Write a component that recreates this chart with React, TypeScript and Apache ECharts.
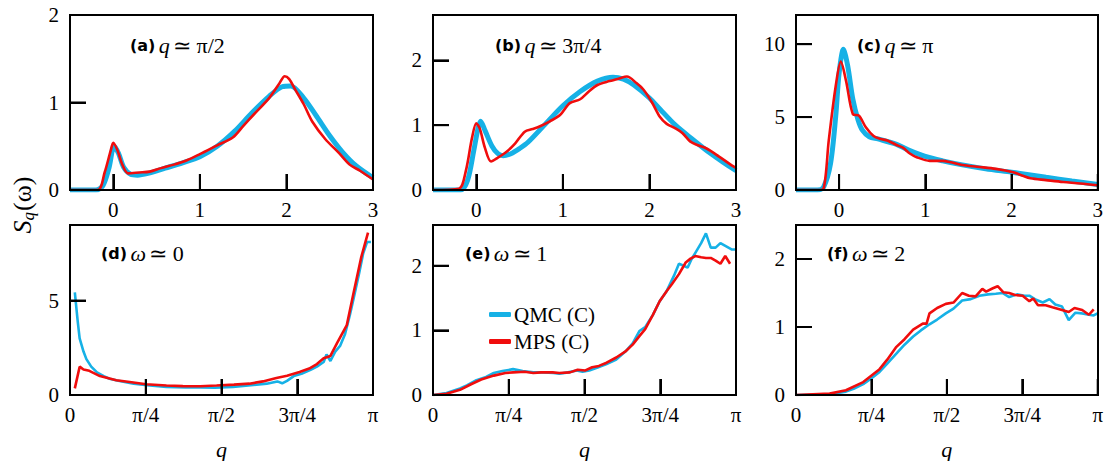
import React, { useEffect, useRef } from "react";
import * as echarts from "echarts";

const PI = Math.PI;

// ---------- Panel (a) q ≃ π/2 ----------
const aQmcW = [-0.5, -0.2, -0.12, -0.05, 0.01, 0.06, 0.12, 0.2, 0.28, 0.4, 0.6, 0.8, 1.0, 1.2, 1.4, 1.6, 1.8, 1.95, 2.05, 2.2, 2.35, 2.5, 2.65, 2.8, 3.0];
const aQmcS = [0, 0, 0.05, 0.25, 0.5, 0.42, 0.26, 0.18, 0.17, 0.19, 0.25, 0.31, 0.38, 0.5, 0.67, 0.88, 1.07, 1.18, 1.19, 1.05, 0.84, 0.62, 0.43, 0.28, 0.14];
const aMpsW = [-0.5, -0.18, -0.1, -0.03, 0.0, 0.05, 0.1, 0.17, 0.3, 0.42, 0.55, 0.7, 0.85, 1.0, 1.2, 1.38, 1.5, 1.62, 1.8, 1.92, 1.98, 2.03, 2.1, 2.2, 2.3, 2.45, 2.6, 2.73, 2.85, 3.0];
const aMpsS = [0, 0, 0.2, 0.45, 0.54, 0.45, 0.3, 0.19, 0.2, 0.21, 0.25, 0.29, 0.34, 0.41, 0.51, 0.6, 0.73, 0.86, 1.05, 1.22, 1.3, 1.27, 1.15, 0.98, 0.78, 0.58, 0.43, 0.29, 0.22, 0.12];

// ---------- Panel (b) q ≃ 3π/4 ----------
const bQmcW = [-0.5, -0.18, -0.1, -0.03, 0.02, 0.05, 0.1, 0.18, 0.25, 0.31, 0.4, 0.5, 0.6, 0.8, 1.0, 1.2, 1.4, 1.58, 1.7, 1.82, 2.0, 2.12, 2.3, 2.5, 2.7, 2.85, 3.0];
const bQmcS = [0, 0, 0.15, 0.6, 0.95, 1.06, 0.92, 0.68, 0.56, 0.53, 0.56, 0.64, 0.74, 1.02, 1.3, 1.52, 1.68, 1.74, 1.71, 1.62, 1.42, 1.25, 1.0, 0.78, 0.57, 0.43, 0.3];
const bMpsW = [-0.5, -0.2, -0.12, -0.05, 0.0, 0.04, 0.1, 0.17, 0.25, 0.35, 0.45, 0.56, 0.65, 0.73, 0.85, 0.97, 1.08, 1.2, 1.3, 1.4, 1.54, 1.65, 1.74, 1.85, 1.93, 2.03, 2.12, 2.2, 2.3, 2.38, 2.47, 2.56, 2.66, 2.8, 2.95, 3.0];
const bMpsS = [0, 0.02, 0.3, 0.8, 1.03, 0.95, 0.65, 0.44, 0.5, 0.59, 0.72, 0.9, 0.94, 0.98, 1.06, 1.16, 1.34, 1.4, 1.52, 1.62, 1.68, 1.72, 1.75, 1.65, 1.55, 1.35, 1.13, 1.02, 0.95, 0.88, 0.75, 0.69, 0.64, 0.52, 0.38, 0.34];

// ---------- Panel (c) q ≃ π ----------
const cQmcW = [-0.5, -0.25, -0.18, -0.1, -0.04, 0.0, 0.05, 0.1, 0.16, 0.22, 0.27, 0.35, 0.45, 0.66, 0.8, 1.0, 1.2, 1.43, 1.7, 2.0, 2.2, 2.4, 2.7, 3.0];
const cQmcS = [0, 0, 0.2, 1.8, 5.0, 8.0, 9.65, 8.5, 6.2, 4.8, 4.1, 3.65, 3.5, 3.15, 2.75, 2.3, 2.0, 1.72, 1.45, 1.22, 1.05, 0.87, 0.62, 0.38];
const cMpsW = [-0.5, -0.25, -0.18, -0.12, -0.04, 0.02, 0.08, 0.16, 0.23, 0.31, 0.4, 0.48, 0.56, 0.66, 0.74, 0.82, 0.9, 1.05, 1.2, 1.3, 1.43, 1.6, 1.82, 2.02, 2.12, 2.22, 2.4, 2.6, 2.8, 3.0];
const cMpsS = [0, 0, 0.1, 3.4, 7.1, 8.8, 7.5, 5.2, 5.1, 4.3, 3.7, 3.5, 3.4, 3.1, 2.9, 2.5, 2.25, 2.0, 2.0, 1.9, 1.72, 1.6, 1.45, 1.22, 1.0, 0.8, 0.68, 0.55, 0.45, 0.32];

// ---------- Panel (d) ω ≃ 0 ----------
const dQmcQ = [0.05, 0.08, 0.1, 0.14, 0.17, 0.22, 0.28, 0.35, 0.41, 0.5, 0.66, 0.8, 1.0, 1.2, 1.35, 1.5, 1.69, 1.85, 2.04, 2.15, 2.2, 2.25, 2.32, 2.4, 2.5, 2.56, 2.63, 2.66, 2.7, 2.75, 2.8, 2.85, 2.9, 2.94, 3.0, 3.04, 3.08, 3.12];
const dQmcS = [5.43, 3.9, 3.0, 2.3, 1.9, 1.5, 1.2, 1.0, 0.86, 0.75, 0.6, 0.52, 0.43, 0.4, 0.4, 0.38, 0.43, 0.5, 0.6, 0.72, 0.62, 0.75, 1.0, 1.12, 1.35, 1.5, 1.75, 2.15, 1.8, 2.3, 2.6, 3.2, 4.2, 5.1, 6.5, 7.5, 8.1, 8.1];
const dMpsQ = [0.05, 0.1, 0.14, 0.2, 0.31, 0.48, 0.6, 0.79, 1.0, 1.17, 1.35, 1.52, 1.7, 1.86, 2.0, 2.14, 2.25, 2.38, 2.48, 2.56, 2.63, 2.7, 2.77, 2.87, 2.94, 3.02, 3.09];
const dMpsS = [0.35, 1.5, 1.35, 1.28, 1.0, 0.78, 0.7, 0.57, 0.5, 0.47, 0.46, 0.5, 0.55, 0.6, 0.72, 0.9, 1.02, 1.22, 1.4, 1.64, 1.95, 2.07, 2.76, 3.7, 5.4, 7.3, 8.6];

// ---------- Panel (e) ω ≃ 1 ----------
const eQmcQ = [0, 0.14, 0.28, 0.35, 0.45, 0.55, 0.63, 0.72, 0.83, 0.93, 1.04, 1.15, 1.25, 1.31, 1.4, 1.49, 1.55, 1.62, 1.7, 1.8, 1.9, 2.0, 2.07, 2.14, 2.2, 2.28, 2.35, 2.42, 2.5, 2.55, 2.6, 2.64, 2.68, 2.72, 2.78, 2.83, 2.88, 2.93, 2.98, 3.04, 3.1, 3.14];
const eQmcS = [0, 0.03, 0.1, 0.15, 0.23, 0.28, 0.34, 0.37, 0.4, 0.37, 0.35, 0.35, 0.34, 0.33, 0.35, 0.38, 0.36, 0.38, 0.42, 0.48, 0.55, 0.68, 0.8, 0.99, 1.05, 1.24, 1.45, 1.6, 1.85, 2.03, 2.0, 1.97, 2.1, 2.2, 2.35, 2.5, 2.28, 2.28, 2.35, 2.3, 2.25, 2.25];
const eMpsQ = [0, 0.14, 0.28, 0.4, 0.5, 0.63, 0.75, 0.83, 0.95, 1.04, 1.12, 1.24, 1.31, 1.42, 1.5, 1.58, 1.65, 1.72, 1.8, 1.9, 2.0, 2.07, 2.14, 2.2, 2.28, 2.35, 2.42, 2.48, 2.55, 2.62, 2.67, 2.72, 2.78, 2.83, 2.88, 2.93, 2.98, 3.03, 3.08];
const eMpsS = [0, 0.02, 0.08, 0.17, 0.24, 0.3, 0.34, 0.35, 0.36, 0.34, 0.35, 0.35, 0.34, 0.35, 0.39, 0.38, 0.43, 0.45, 0.5, 0.58, 0.68, 0.78, 0.91, 1.02, 1.24, 1.45, 1.6, 1.72, 1.87, 2.05, 2.11, 2.15, 2.13, 2.12, 2.12, 2.08, 2.03, 2.15, 2.03];

// ---------- Panel (f) ω ≃ 2 ----------
const fQmcQ = [0, 0.35, 0.52, 0.6, 0.7, 0.78, 0.87, 0.95, 1.04, 1.13, 1.22, 1.3, 1.39, 1.47, 1.56, 1.64, 1.73, 1.82, 1.91, 2.0, 2.08, 2.15, 2.22, 2.3, 2.38, 2.43, 2.5, 2.57, 2.64, 2.7, 2.77, 2.84, 2.91, 2.98, 3.05, 3.1, 3.14];
const fQmcS = [0, 0.01, 0.05, 0.09, 0.16, 0.24, 0.34, 0.46, 0.6, 0.74, 0.86, 0.95, 1.04, 1.11, 1.2, 1.27, 1.39, 1.41, 1.46, 1.48, 1.49, 1.5, 1.44, 1.48, 1.46, 1.46, 1.4, 1.36, 1.41, 1.33, 1.3, 1.1, 1.21, 1.2, 1.18, 1.17, 1.2];
const fMpsQ = [0, 0.35, 0.52, 0.7, 0.87, 0.95, 1.04, 1.13, 1.22, 1.32, 1.36, 1.39, 1.47, 1.56, 1.64, 1.73, 1.8, 1.87, 1.94, 1.98, 2.05, 2.1, 2.16, 2.22, 2.28, 2.36, 2.43, 2.47, 2.52, 2.6, 2.67, 2.77, 2.84, 2.9, 2.98, 3.05, 3.1];
const fMpsS = [0, 0.02, 0.07, 0.19, 0.38, 0.52, 0.7, 0.82, 0.96, 1.05, 1.05, 1.2, 1.28, 1.34, 1.36, 1.5, 1.46, 1.45, 1.56, 1.52, 1.57, 1.6, 1.51, 1.5, 1.47, 1.46, 1.38, 1.42, 1.32, 1.32, 1.29, 1.25, 1.22, 1.28, 1.25, 1.18, 1.26];

// ---------- axes / labels ----------
const topXTicks = [0, 1, 2, 3];
const bottomXTicks = [0, PI / 4, PI / 2, (3 * PI) / 4, PI];
const bottomXLabels = ["0", "π/4", "π/2", "3π/4", "π"];
const xMinTop = -0.5;
const xMaxTop = 3;
const yMax = [2, 2.7, 12, 9, 2.63, 2.5];
const yTicks = [[0, 1, 2], [0, 1, 2], [0, 5, 10], [0, 5], [0, 1, 2], [0, 1, 2]];
const panelTags = ["(a)", "(b)", "(c)", "(d)", "(e)", "(f)"];
const panelVars = ["q", "q", "q", "ω", "ω", "ω"];
const panelVals = ["≃ π/2", "≃ 3π/4", "≃ π", "≃ 0", "≃ 1", "≃ 2"];
const seriesNames = ["QMC (C)", "MPS (C)"];

const BLUE = "#16b1e6";
const RED = "#f00d0d";
const SERIF = "Liberation Serif";
const TICK_LEN = 16;

const pair = (xs: number[], ys: number[]) => xs.map((x, i) => [x, ys[i]]);

export default function App() {
  const ref = useRef<HTMLDivElement>(null);
  useEffect(() => {
    document.body.style.margin = "0";
    const chart = echarts.init(ref.current!, null, { renderer: "svg" });

    const lefts = [70, 433, 796];
    const widths = [303, 303, 302];
    const grids: any[] = [];
    for (let r = 0; r < 2; r++) {
      for (let c = 0; c < 3; c++) {
        grids.push({
          left: lefts[c],
          width: widths[c],
          top: r === 0 ? 15 : 225,
          height: r === 0 ? 175 : 173,
          show: false,
          containLabel: false,
        });
      }
    }

    const frameLine = { show: true, onZero: false, lineStyle: { color: "#000", width: 2, cap: "square" } };
    const tickStyle = { show: true, inside: true, length: TICK_LEN, lineStyle: { color: "#000", width: 2 } };
    const labelFont = { fontFamily: SERIF, fontSize: 21, color: "#000" };

    const xAxes: any[] = [];
    const yAxes: any[] = [];
    grids.forEach((_, i) => {
      const top = i < 3;
      const ticks = top ? topXTicks : bottomXTicks;
      const xMin = top ? xMinTop : 0;
      const xMax = top ? xMaxTop : PI;
      xAxes.push({
        type: "value",
        gridIndex: i,
        position: "bottom",
        min: xMin,
        max: xMax,
        z: 6,
        splitLine: { show: false },
        axisLine: frameLine,
        axisTick: { ...tickStyle, customValues: ticks },
        axisLabel: {
          ...labelFont,
          margin: 9,
          customValues: ticks,
          formatter: (v: number) => {
            if (top) return String(Math.round(v));
            const k = bottomXTicks.findIndex((t) => Math.abs(t - v) < 1e-6);
            return k >= 0 ? bottomXLabels[k] : "";
          },
        },
        name: top ? "" : "q",
        nameLocation: "middle",
        nameGap: 43,
        nameTextStyle: { fontFamily: SERIF, fontStyle: "italic", fontSize: 22, color: "#000" },
      });
      yAxes.push({
        type: "value",
        gridIndex: i,
        position: "left",
        min: 0,
        max: yMax[i],
        z: 6,
        splitLine: { show: false },
        axisLine: frameLine,
        axisTick: { ...tickStyle, customValues: yTicks[i] },
        axisLabel: { ...labelFont, margin: 11, customValues: yTicks[i], formatter: (v: number) => String(v) },
      });
    });
    // frame: top and right edges of each panel
    grids.forEach((_, i) => {
      const top = i < 3;
      xAxes.push({
        type: "value",
        gridIndex: i,
        position: "top",
        min: top ? xMinTop : 0,
        max: top ? xMaxTop : PI,
        z: 6,
        splitLine: { show: false },
        axisLine: frameLine,
        axisTick: { show: false },
        axisLabel: { show: false },
      });
      yAxes.push({
        type: "value",
        gridIndex: i,
        position: "right",
        min: 0,
        max: yMax[i],
        z: 6,
        splitLine: { show: false },
        axisLine: frameLine,
        axisTick: { show: false },
        axisLabel: { show: false },
      });
    });

    const panels = [
      [aQmcW, aQmcS, aMpsW, aMpsS],
      [bQmcW, bQmcS, bMpsW, bMpsS],
      [cQmcW, cQmcS, cMpsW, cMpsS],
      [dQmcQ, dQmcS, dMpsQ, dMpsS],
      [eQmcQ, eQmcS, eMpsQ, eMpsS],
      [fQmcQ, fQmcS, fMpsQ, fMpsS],
    ];
    const series: any[] = [];
    panels.forEach((p, i) => {
      const top = i < 3;
      series.push({
        type: "line",
        name: seriesNames[0],
        xAxisIndex: i,
        yAxisIndex: i,
        data: pair(p[0], p[1]),
        showSymbol: false,
        symbol: "none",
        smooth: top ? 0.3 : false,
        color: BLUE,
        lineStyle: { color: BLUE, width: top ? 5 : 2.6 },
        z: 2,
      });
      series.push({
        type: "line",
        name: seriesNames[1],
        xAxisIndex: i,
        yAxisIndex: i,
        data: pair(p[2], p[3]),
        showSymbol: false,
        symbol: "none",
        smooth: top ? 0.3 : false,
        color: RED,
        lineStyle: { color: RED, width: 2.6 },
        z: 3,
      });
      // inward tick marks placed through the panel's own axes
      const xMin = top ? xMinTop : 0;
      const xt = top ? topXTicks : bottomXTicks;
      const tickData = [
        ...xt.map((v) => [v, 0, 0]),
        ...yTicks[i].map((v) => [xMin, v, 1]),
      ];
      series.push({
        type: "custom",
        name: "ticks",
        xAxisIndex: i,
        yAxisIndex: i,
        clip: false,
        silent: true,
        z: 7,
        encode: { x: 0, y: 1 },
        dimensions: ["x", "y", "kind"],
        data: tickData,
        renderItem: (_params: any, api: any) => {
          const pt = api.coord([api.value(0), api.value(1)]);
          const vertical = api.value(2) === 0;
          return {
            type: "line",
            shape: vertical
              ? { x1: pt[0], y1: pt[1], x2: pt[0], y2: pt[1] - TICK_LEN }
              : { x1: pt[0], y1: pt[1], x2: pt[0] + TICK_LEN, y2: pt[1] },
            style: { stroke: "#000", lineWidth: 2, fill: null },
          };
        },
      });
    });

    const tagPos = [
      [130, 45], [495, 45], [857, 45],
      [101, 253], [465, 253], [827, 253],
    ];
    const rich = {
      b: { fontFamily: "DejaVu Sans", fontWeight: "bold", fontSize: 16, color: "#000" },
      i: { fontFamily: SERIF, fontStyle: "italic", fontSize: 22, color: "#000" },
      r: { fontFamily: SERIF, fontSize: 22, color: "#000" },
    };
    const graphics: any[] = tagPos.map((p, i) => ({
      type: "text",
      x: p[0],
      y: p[1],
      style: {
        text: `{b|${panelTags[i]}} {i|${panelVars[i]}} {r|${panelVals[i]}}`,
        rich,
        textVerticalAlign: "middle",
        verticalAlign: "middle",
      },
    }));
    graphics.push({
      type: "text",
      x: 22,
      y: 205,
      rotation: Math.PI / 2,
      style: {
        text: "{s|S}{sub|q}{p|(ω)}",
        rich: {
          s: { fontFamily: SERIF, fontStyle: "italic", fontSize: 26, color: "#000", lineHeight: 32 },
          sub: { fontFamily: SERIF, fontStyle: "italic", fontSize: 17, color: "#000", padding: [13, 1, 0, 0], lineHeight: 32 },
          p: { fontFamily: SERIF, fontSize: 26, color: "#000", lineHeight: 32 },
        },
        textAlign: "center",
        align: "center",
        textVerticalAlign: "middle",
        verticalAlign: "middle",
      },
    });

    chart.setOption({
      animation: false,
      backgroundColor: "#fff",
      grid: grids,
      xAxis: xAxes,
      yAxis: yAxes,
      series,
      legend: {
        data: seriesNames,
        orient: "vertical",
        left: 484,
        top: 299,
        icon: "roundRect",
        itemWidth: 22,
        itemHeight: 5,
        itemGap: 6,
        selectedMode: false,
        textStyle: { fontFamily: SERIF, fontSize: 21, color: "#000", padding: [0, 0, 0, -2] },
      },
      graphic: graphics,
    });
    return () => chart.dispose();
  }, []);
  return <div ref={ref} style={{ width: 1106, height: 461 }} />;
}
